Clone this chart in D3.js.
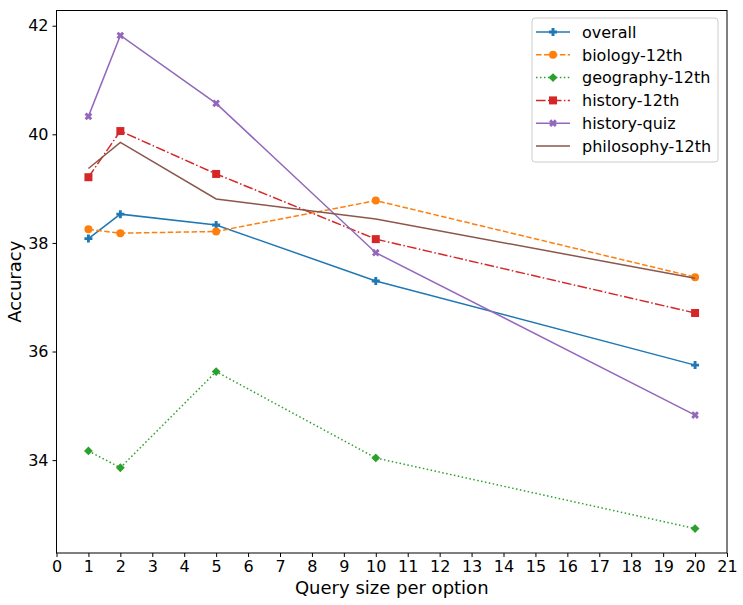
<!DOCTYPE html>
<html><head><meta charset="utf-8">
<script src="https://cdn.jsdelivr.net/npm/d3@7"></script>
<style>body{margin:0;background:#fff;} svg{display:block;font-family:"DejaVu Sans",sans-serif;}</style>
</head><body>
<script>
const xValues = [1, 2, 5, 10, 20];
const seriesNames = ["overall","biology-12th","geography-12th","history-12th","history-quiz","philosophy-12th"];
const overall   = [38.08, 38.53, 38.33, 37.30, 35.75];
const biology   = [38.25, 38.18, 38.21, 38.78, 37.37];
const geography = [34.17, 33.86, 35.63, 34.04, 32.74];
const history12 = [39.21, 40.06, 39.27, 38.07, 36.71];
const historyQuiz = [40.33, 41.82, 40.57, 37.82, 34.83];
const philosophy = [39.37, 39.85, 38.81, 38.44, 37.35];
const xTicks = d3.range(0, 22);
const yTicks = [34, 36, 38, 40, 42];

const seriesData = [overall, biology, geography, history12, historyQuiz, philosophy];
const colors = ["#1f77b4","#ff7f0e","#2ca02c","#d62728","#9467bd","#8c564b"];
const dashes = [null, "5.55,2.4", "1.5,2.475", "9.6,2.4,1.5,2.4", null, null];
const markers = ["plus","circle","diamond","square","x", null];

const W = 743, H = 605;
const m = {l:56.5, r:727, t:10.5, b:553};
const svg = d3.select("body").append("svg").attr("width", W).attr("height", H);
const x = d3.scaleLinear().domain([0, 21]).range([m.l, m.r]);
const y = d3.scaleLinear().domain([32.29, 42.28]).range([m.b, m.t]);

// axes
const xAxis = svg.append("g").attr("transform", `translate(0,${m.b})`)
  .call(d3.axisBottom(x).tickValues(xTicks).tickFormat(d3.format("d")).tickSizeOuter(0).tickSize(4).tickPadding(4));
const yAxis = svg.append("g").attr("transform", `translate(${m.l},0)`)
  .call(d3.axisLeft(y).tickValues(yTicks).tickFormat(d3.format("d")).tickSizeOuter(0).tickSize(4).tickPadding(4));
[xAxis, yAxis].forEach(g => {
  g.select(".domain").remove();
  g.selectAll("text").attr("font-size", 16).attr("fill", "#000").attr("font-family", "DejaVu Sans");
  g.selectAll("line").attr("stroke", "#000").attr("stroke-width", 1);
});

function markerPath(type, s) {
  const h = s / 2;
  if (type === "circle") return d3.symbol(d3.symbolCircle, Math.PI * h * h)();
  if (type === "square") return `M${-h},${-h}H${h}V${h}H${-h}Z`;
  if (type === "diamond") { const d = h * 1.1; return `M0,${-d}L${d},0L0,${d}L${-d},0Z`; }
  if (type === "plus" || type === "x") { const t = h * 0.36; return `M${-t},${-h}H${t}V${-t}H${h}V${t}H${t}V${h}H${-t}V${t}H${-h}V${-t}H${-t}Z`; }
  return "";
}

const line = d3.line().x((d, i) => x(xValues[i])).y(d => y(d));
const plot = svg.append("g");
seriesData.forEach((vals, k) => {
  plot.append("path").datum(vals).attr("d", line).attr("fill", "none")
    .attr("stroke", colors[k]).attr("stroke-width", 1.5)
    .attr("stroke-dasharray", dashes[k]);
  if (markers[k]) {
    plot.selectAll(null).data(vals).enter().append("path")
      .attr("d", markerPath(markers[k], 8))
      .attr("transform", (d, i) => `translate(${x(xValues[i])},${y(d)})` + (markers[k] === "x" ? " rotate(45)" : ""))
      .attr("fill", colors[k]);
  }
});

// frame
svg.append("rect").attr("x", m.l).attr("y", m.t).attr("width", m.r - m.l).attr("height", m.b - m.t)
  .attr("fill", "none").attr("stroke", "#000").attr("stroke-width", 1);

// labels
svg.append("text").attr("x", (m.l + m.r) / 2).attr("y", 594).attr("text-anchor", "middle")
  .attr("font-size", 18).text("Query size per option");
svg.append("text").attr("transform", `translate(21,${(m.t + m.b) / 2}) rotate(-90)`).attr("text-anchor", "middle")
  .attr("font-size", 18).text("Accuracy");

// legend
const lg = svg.append("g");
lg.append("rect").attr("x", 532).attr("y", 18).attr("width", 186).attr("height", 144).attr("rx", 3)
  .attr("fill", "#fff").attr("fill-opacity", 0.8).attr("stroke", "#ccc").attr("stroke-width", 1);
seriesNames.forEach((name, k) => {
  const cy = 32 + k * 22.8;
  lg.append("line").attr("x1", 536).attr("x2", 570).attr("y1", cy).attr("y2", cy)
    .attr("stroke", colors[k]).attr("stroke-width", 1.5).attr("stroke-dasharray", dashes[k]);
  if (markers[k]) {
    lg.append("path").attr("d", markerPath(markers[k], 8))
      .attr("transform", `translate(553,${cy})` + (markers[k] === "x" ? " rotate(45)" : ""))
      .attr("fill", colors[k]);
  }
  lg.append("text").attr("x", 582).attr("y", cy).attr("dy", "0.36em").attr("font-size", 16).text(name);
});
</script>
</body></html>
